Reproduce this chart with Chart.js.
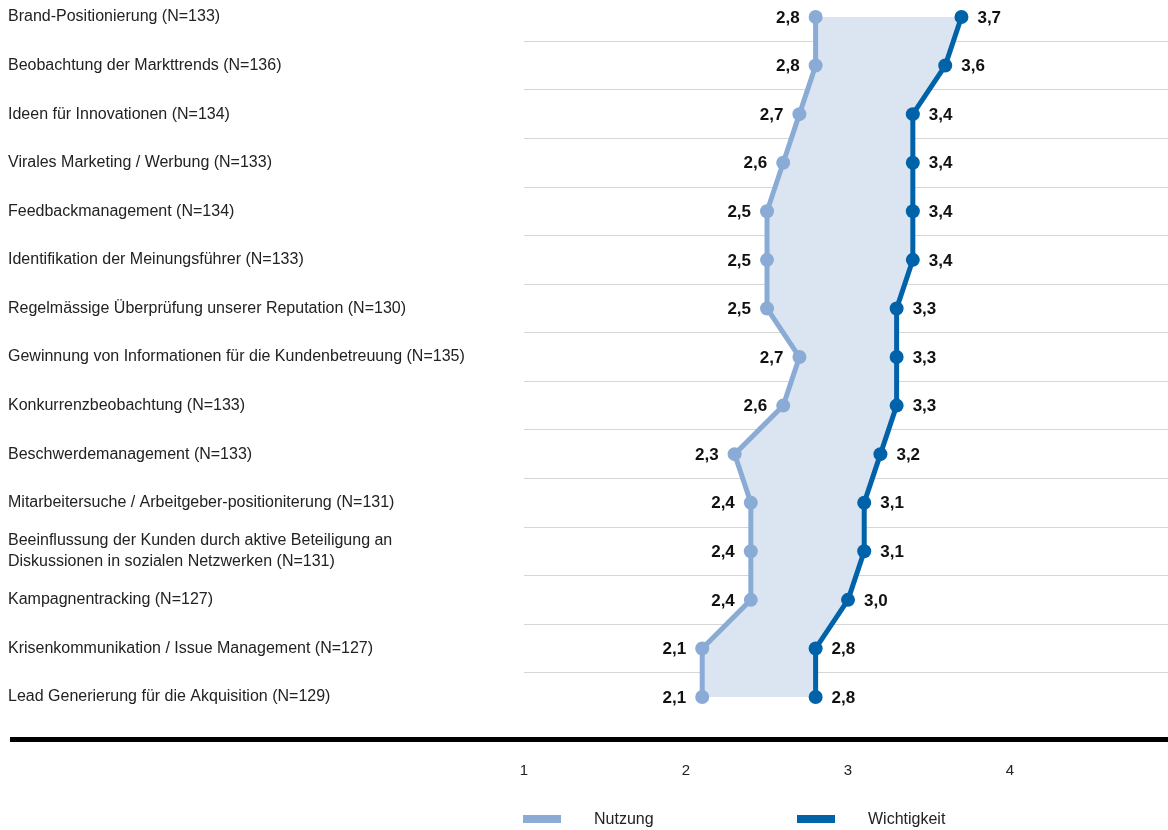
<!DOCTYPE html>
<html lang="de">
<head>
<meta charset="utf-8">
<title>Nutzung und Wichtigkeit</title>
<script src="https://cdn.jsdelivr.net/npm/chart.js@4.4.1/dist/chart.umd.min.js"></script>
<style>
  html, body { margin: 0; padding: 0; background: #fff; }
  #wrap { width: 1168px; height: 830px; position: relative; }
</style>
</head>
<body>
<div id="wrap"><canvas id="chart"></canvas></div>
<script>
const categories = [
  "Brand-Positionierung (N=133)",
  "Beobachtung der Markttrends (N=136)",
  "Ideen für Innovationen (N=134)",
  "Virales Marketing / Werbung (N=133)",
  "Feedbackmanagement (N=134)",
  "Identifikation der Meinungsführer (N=133)",
  "Regelmässige Überprüfung unserer Reputation (N=130)",
  "Gewinnung von Informationen für die Kundenbetreuung (N=135)",
  "Konkurrenzbeobachtung (N=133)",
  "Beschwerdemanagement (N=133)",
  "Mitarbeitersuche / Arbeitgeber-positioniterung (N=131)",
  ["Beeinflussung der Kunden durch aktive Beteiligung an", "Diskussionen in sozialen Netzwerken (N=131)"],
  "Kampagnentracking (N=127)",
  "Krisenkommunikation / Issue Management (N=127)",
  "Lead Generierung für die Akquisition (N=129)",
];

const nutzung     = [2.8, 2.8, 2.7, 2.6, 2.5, 2.5, 2.5, 2.7, 2.6, 2.3, 2.4, 2.4, 2.4, 2.1, 2.1];
const wichtigkeit = [3.7, 3.6, 3.4, 3.4, 3.4, 3.4, 3.3, 3.3, 3.3, 3.2, 3.1, 3.1, 3.0, 2.8, 2.8];

const xTicks = [1, 2, 3, 4];

const FONT = "'Liberation Sans', Arial, sans-serif";
const TEXT = "#222";

const toPoints = vals => vals.map((v, i) => ({ x: v, y: i }));
const fmt = v => v.toFixed(1).replace(".", ",");

// scales should not push the plot area in for their edge labels
const noPad = scale => {
  scale.paddingTop = 0;
  scale.paddingBottom = 0;
  scale.paddingLeft = 0;
  scale.paddingRight = 0;
};

// bold value labels: left of the first series, right of the second
const valueLabels = {
  id: "valueLabels",
  afterDatasetsDraw(chart) {
    const ctx = chart.ctx;
    ctx.save();
    ctx.font = "bold 17px " + FONT;
    ctx.fillStyle = "#111";
    ctx.textBaseline = "middle";
    chart.data.datasets.forEach((ds, di) => {
      const meta = chart.getDatasetMeta(di);
      meta.data.forEach((pt, i) => {
        const v = ds.data[i].x;
        if (di === 0) {
          ctx.textAlign = "right";
          ctx.fillText(fmt(v), pt.x - 16, pt.y + 1);
        } else {
          ctx.textAlign = "left";
          ctx.fillText(fmt(v), pt.x + 16, pt.y + 1);
        }
      });
    });
    ctx.restore();
  },
};

// heavy base rule under the rows and a flat legend below the axis
const baseAndLegend = {
  id: "baseAndLegend",
  afterDraw(chart) {
    const { ctx, chartArea } = chart;
    ctx.save();
    ctx.fillStyle = "#000";
    ctx.fillRect(10, chartArea.bottom - 3, chart.width - 10, 5);

    ctx.font = "16px " + FONT;
    ctx.textBaseline = "middle";
    ctx.textAlign = "left";
    const y = 819;
    chart.data.datasets.forEach((ds, i) => {
      const x = chartArea.left - 1 + i * 274;
      ctx.fillStyle = ds.borderColor;
      ctx.fillRect(x, y - 4, 38, 8);
      ctx.fillStyle = TEXT;
      ctx.fillText(ds.label, x + 71, y + 1);
    });
    ctx.restore();
  },
};

new Chart(document.getElementById("chart"), {
  type: "line",
  data: {
    datasets: [
      {
        label: "Nutzung",
        data: toPoints(nutzung),
        borderColor: "#8aabd6",
        backgroundColor: "#dbe5f1",
        pointBackgroundColor: "#8aabd6",
        borderWidth: 5,
        pointRadius: 7,
        pointBorderWidth: 0,
        fill: "+1",
      },
      {
        label: "Wichtigkeit",
        data: toPoints(wichtigkeit),
        borderColor: "#0062a8",
        backgroundColor: "#0062a8",
        pointBackgroundColor: "#0062a8",
        borderWidth: 5,
        pointRadius: 7,
        pointBorderWidth: 0,
        fill: false,
      },
    ],
  },
  options: {
    indexAxis: "y",
    responsive: true,
    maintainAspectRatio: false,
    animation: false,
    layout: { autoPadding: false, padding: { left: 8, top: 0, right: 0, bottom: 50 } },
    plugins: {
      legend: { display: false },
      tooltip: { enabled: false },
      filler: { drawTime: "beforeDatasetsDraw" },
    },
    scales: {
      x: {
        type: "linear",
        min: 1,
        max: 4.975,
        afterBuildTicks: scale => { scale.ticks = xTicks.map(v => ({ value: v })); },
        afterFit: scale => { scale.height = 40; noPad(scale); },
        grid: { display: false, drawTicks: false },
        border: { display: false },
        ticks: {
          padding: 22,
          color: TEXT,
          font: { family: FONT, size: 15 },
          callback: v => String(v),
        },
      },
      y: {
        type: "linear",
        reverse: true,
        min: -0.35,
        max: 14.885,
        afterBuildTicks: scale => {
          const t = [];
          categories.forEach((c, i) => {
            t.push({ value: i });
            if (i < categories.length - 1) t.push({ value: i + 0.5 });
          });
          scale.ticks = t;
        },
        afterFit: scale => { scale.width = 516; noPad(scale); },
        grid: {
          drawTicks: false,
          color: ctx => (ctx.tick && ctx.tick.value % 1 !== 0 ? "#d6d6d6" : "rgba(0,0,0,0)"),
          lineWidth: 1,
        },
        border: { display: false },
        ticks: {
          crossAlign: "far",
          padding: 0,
          autoSkip: false,
          color: TEXT,
          font: { family: FONT, size: 16, lineHeight: 1.3 },
          callback: v => (v % 1 === 0 ? categories[v] : ""),
        },
      },
    },
  },
  plugins: [valueLabels, baseAndLegend],
});
</script>
</body>
</html>
